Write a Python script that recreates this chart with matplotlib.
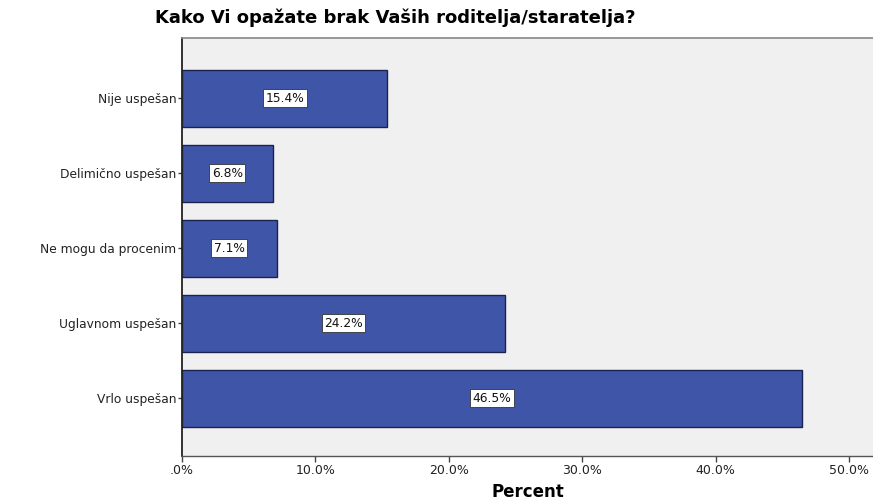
import numpy as np
import matplotlib.pyplot as plt

# Data (top to bottom)
categories = ['Nije uspešan', 'Delimično uspešan', 'Ne mogu da procenim', 'Uglavnom uspešan', 'Vrlo uspešan']
percents = [15.4, 6.8, 7.1, 24.2, 46.5]
xticks = [0, 10, 20, 30, 40, 50]
xtick_labels = ['.0%', '10.0%', '20.0%', '30.0%', '40.0%', '50.0%']

plt.rcParams['font.family'] = ['DejaVu Sans']

fig = plt.figure(figsize=(8.73, 5.0), dpi=100)
ax = fig.add_axes([182/873, 1 - 456/500, (873 - 182)/873, (456 - 38)/500])
ax.set_facecolor('#f0f0f0')

pos = np.arange(len(categories))[::-1]
ax.barh(pos, percents, height=0.76, color='#3f55a8', edgecolor='#1a2350', linewidth=1.0)

# value labels in white boxes
for p, v in zip(pos, percents):
    ax.text(v / 2, p, f'{v:.1f}%', ha='center', va='center', fontsize=8.8, color='#111111',
            bbox=dict(boxstyle='square,pad=0.2', facecolor='white', edgecolor='#333333', linewidth=0.6))

ax.set_xlim(0, 51.8)
ax.set_ylim(-0.77, 4.80)
ax.set_yticks(pos)
ax.set_yticklabels(categories, fontsize=8.8, color='#222222')
ax.set_xticks(xticks)
ax.set_xticklabels(xtick_labels, fontsize=9, color='#222222')
ax.tick_params(axis='both', direction='out', length=4, width=1, color='#444444', pad=2)
ax.tick_params(axis='y', length=3, pad=1)

ax.spines['left'].set_color('#222222')
ax.spines['left'].set_linewidth(1.3)
ax.spines['bottom'].set_color('#555555')
ax.spines['bottom'].set_linewidth(1.0)
ax.spines['top'].set_color('#888888')
ax.spines['top'].set_linewidth(1.2)
ax.spines['right'].set_visible(False)

ax.set_xlabel('Percent', fontsize=12, fontweight='bold', labelpad=4)
fig.text(155/873, 1 - 18/500, 'Kako Vi opažate brak Vaših roditelja/staratelja?',
         fontsize=13, fontweight='bold', ha='left', va='center')

fig.savefig('out.png', dpi=100)
